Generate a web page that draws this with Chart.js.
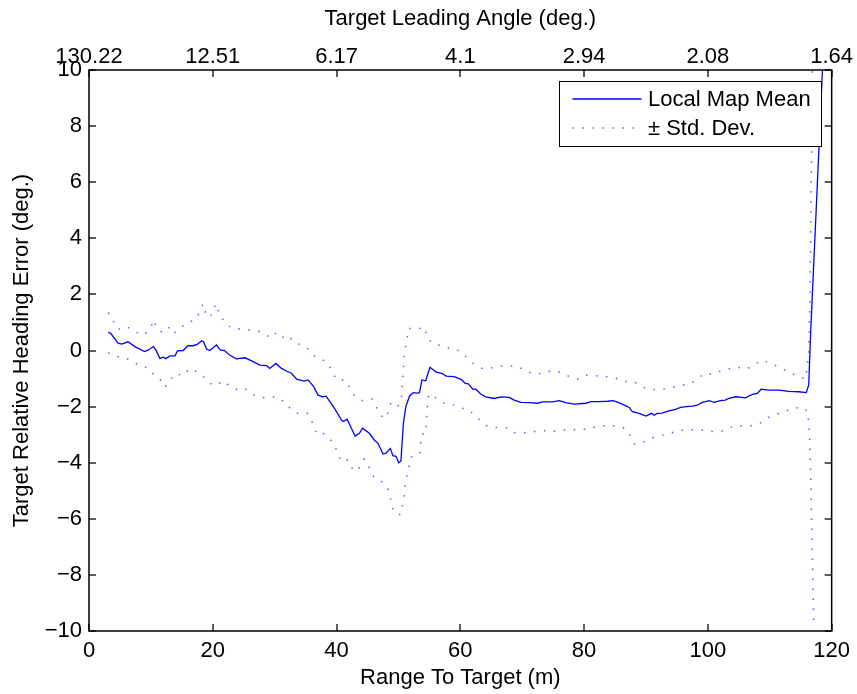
<!DOCTYPE html>
<html>
<head>
<meta charset="utf-8">
<title>Target Relative Heading Error</title>
<script src="https://cdn.jsdelivr.net/npm/chart.js@4.4.1/dist/chart.umd.min.js"></script>
<style>
  html, body { margin: 0; padding: 0; background: #fff; }
  #wrap { width: 857px; height: 694px; position: relative; }
</style>
</head>
<body>
<div id="wrap"><canvas id="c"></canvas></div>
<script>
// Range to target (m) and mean heading error (deg.)
const meanRange = [3.1, 3.5, 4.7, 5.3, 6.3, 7.4, 9.0, 9.6, 10.4, 10.8, 11.45, 12.0, 12.4, 13.1, 13.9, 14.3, 15.2, 16.0, 16.8, 17.5, 18.2, 18.5, 19.0, 19.5, 20.6, 21.2, 21.9, 22.7, 23.8, 25.2, 26.2, 27.6, 28.7, 29.2, 30.2, 31.1, 31.9, 32.7, 33.6, 34.8, 35.4, 36.3, 37.0, 37.8, 38.3, 39.1, 39.7, 40.8, 41.1, 41.7, 42.4, 43.0, 43.7, 44.2, 45.3, 46.1, 46.7, 47.5, 48.0, 48.7, 49.1, 49.6, 50.05, 50.4, 50.8, 51.2, 51.8, 52.4, 52.9, 53.4, 53.8, 54.4, 55.1, 56.1, 57.1, 57.7, 59.0, 60.1, 60.8, 61.3, 62.0, 62.5, 63.3, 64.1, 65.5, 66.6, 67.9, 68.7, 69.8, 71.1, 72.5, 73.3, 74.9, 76.0, 77.0, 78.4, 80.3, 81.1, 82.4, 83.8, 84.7, 85.6, 86.4, 87.3, 87.8, 88.9, 90.0, 90.9, 91.3, 91.8, 92.6, 93.7, 94.8, 95.6, 96.5, 97.5, 98.3, 99.1, 100.2, 101.0, 102.0, 102.8, 103.4, 104.5, 106.1, 107.2, 108.0, 108.6, 109.8, 111.5, 113.1, 114.7, 115.9, 116.3, 116.6, 118.6];
const meanError = [0.65, 0.61, 0.26, 0.23, 0.31, 0.14, -0.04, 0.02, 0.14, 0.02, -0.28, -0.24, -0.29, -0.19, -0.19, -0.01, 0.0, 0.17, 0.17, 0.22, 0.35, 0.31, 0.05, 0.0, 0.2, 0.02, 0.0, -0.16, -0.3, -0.26, -0.36, -0.52, -0.54, -0.64, -0.46, -0.64, -0.73, -0.81, -1.03, -1.09, -1.05, -1.29, -1.59, -1.65, -1.63, -1.88, -2.07, -2.48, -2.53, -2.45, -2.77, -3.05, -2.95, -2.77, -2.95, -3.19, -3.31, -3.69, -3.66, -3.49, -3.75, -3.77, -4.0, -3.94, -2.6, -2.0, -1.62, -1.5, -1.52, -1.5, -1.05, -1.08, -0.6, -0.77, -0.82, -0.91, -0.93, -1.03, -1.17, -1.19, -1.38, -1.38, -1.55, -1.65, -1.71, -1.65, -1.67, -1.77, -1.85, -1.86, -1.88, -1.83, -1.83, -1.79, -1.86, -1.91, -1.88, -1.82, -1.82, -1.81, -1.79, -1.86, -1.94, -2.03, -2.18, -2.24, -2.34, -2.24, -2.31, -2.24, -2.23, -2.15, -2.1, -2.03, -2.0, -1.98, -1.95, -1.85, -1.79, -1.85, -1.79, -1.77, -1.71, -1.65, -1.69, -1.56, -1.53, -1.38, -1.41, -1.41, -1.46, -1.47, -1.5, -1.23, 0.6, 10.4];

// Mean + one standard deviation
const upperRange = [3.1, 3.9, 4.7, 6.1, 7.4, 8.8, 9.8, 10.5, 10.9, 11.7, 12.8, 13.6, 14.7, 15.75, 17.1, 17.8, 18.4, 18.9, 19.6, 20.0, 20.7, 21.0, 21.7, 22.5, 23.8, 25.2, 26.7, 28.1, 29.2, 30.0, 30.9, 32.1, 33.2, 34.3, 35.5, 36.5, 37.8, 38.6, 39.3, 40.05, 41.4, 42.1, 42.9, 44.2, 45.7, 46.5, 47.2, 48.0, 48.5, 48.8, 49.9, 50.5, 50.7, 50.9, 51.1, 51.4, 51.6, 52.8, 54.3, 54.6, 55.6, 57.1, 58.5, 59.9, 61.0, 62.1, 63.3, 64.8, 66.0, 67.6, 69.1, 70.3, 71.8, 73.3, 74.8, 76.2, 77.6, 78.9, 80.3, 81.9, 83.5, 85.0, 86.5, 88.1, 89.4, 90.7, 92.1, 93.6, 95.1, 96.7, 98.1, 99.2, 100.8, 102.2, 103.4, 104.7, 106.3, 107.6, 108.8, 110.2, 111.5, 112.9, 114.3, 115.7, 116.0, 116.3, 116.5, 116.9, 117.0];
const upperError = [1.35, 1.06, 0.75, 0.85, 0.67, 0.55, 0.75, 1.09, 0.79, 0.67, 0.85, 0.59, 0.79, 0.97, 1.09, 1.32, 1.66, 1.3, 1.18, 1.5, 1.66, 1.3, 1.09, 0.87, 0.79, 0.73, 0.73, 0.63, 0.47, 0.63, 0.43, 0.55, 0.28, 0.2, 0.04, -0.22, -0.34, -0.46, -0.75, -1.05, -1.05, -1.31, -1.62, -1.79, -1.73, -2.05, -2.33, -2.42, -2.06, -1.86, -2.0, -1.68, -0.99, -0.28, 0.07, 0.43, 0.79, 0.77, 0.81, 0.47, 0.23, 0.17, 0.05, -0.01, -0.24, -0.46, -0.63, -0.63, -0.57, -0.55, -0.55, -0.69, -0.84, -0.81, -0.72, -0.78, -0.93, -1.02, -0.87, -0.9, -0.93, -0.98, -1.1, -1.12, -1.3, -1.38, -1.4, -1.35, -1.27, -1.2, -1.08, -0.84, -0.84, -0.72, -0.65, -0.6, -0.66, -0.49, -0.34, -0.46, -0.59, -0.75, -0.89, -1.02, -0.72, 0.01, 1.8, 10.0, 11.0];

// Mean - one standard deviation
const lowerRange = [3.1, 4.2, 5.5, 6.9, 8.2, 9.6, 10.5, 11.45, 12.3, 13.1, 14.0, 15.2, 16.3, 17.6, 18.8, 19.9, 20.8, 21.5, 22.85, 24.2, 25.4, 26.7, 28.1, 29.4, 30.6, 31.8, 32.7, 33.9, 35.3, 36.1, 36.7, 37.4, 38.6, 39.5, 40.1, 40.75, 41.8, 42.6, 43.4, 44.1, 44.5, 45.3, 46.0, 47.2, 48.3, 48.7, 49.1, 49.8, 50.4, 50.7, 51.0, 51.1, 51.4, 51.8, 52.2, 52.85, 53.5, 53.6, 53.8, 54.4, 54.5, 54.6, 54.7, 54.9, 55.8, 57.0, 58.6, 60.0, 61.4, 62.3, 63.3, 64.5, 66.0, 67.6, 68.8, 70.4, 72.0, 73.5, 74.9, 76.4, 77.9, 79.4, 80.8, 82.3, 83.8, 85.4, 86.6, 87.5, 88.1, 89.6, 90.9, 91.8, 93.3, 94.8, 96.4, 97.9, 99.3, 100.8, 102.3, 103.7, 105.3, 106.9, 108.2, 109.3, 110.6, 112.1, 113.6, 115.2, 116.1, 116.4, 116.6, 117.1];
const lowerError = [-0.08, -0.2, -0.24, -0.36, -0.55, -0.62, -0.86, -1.02, -1.31, -1.05, -0.82, -0.9, -0.64, -0.78, -0.99, -1.23, -1.23, -1.08, -1.27, -1.43, -1.38, -1.59, -1.68, -1.65, -1.67, -1.88, -2.12, -2.26, -2.24, -2.57, -2.92, -2.86, -3.1, -3.29, -3.61, -3.96, -3.9, -4.24, -4.3, -3.96, -3.87, -4.18, -4.5, -4.65, -4.91, -5.27, -5.63, -5.86, -5.84, -5.48, -5.13, -4.77, -4.42, -4.06, -3.73, -3.69, -3.64, -3.31, -2.98, -2.98, -2.62, -2.28, -1.92, -1.56, -1.65, -1.86, -1.91, -2.04, -2.12, -2.31, -2.5, -2.72, -2.75, -2.75, -2.93, -2.93, -2.89, -2.86, -2.89, -2.83, -2.83, -2.81, -2.8, -2.68, -2.68, -2.68, -2.77, -3.04, -3.33, -3.26, -3.12, -3.07, -2.99, -2.89, -2.83, -2.83, -2.83, -2.89, -2.87, -2.74, -2.68, -2.68, -2.63, -2.44, -2.29, -2.22, -2.07, -2.02, -2.16, -2.9, -4.3, -9.7];

// Top axis: leading angle (deg.) at each range tick
const angleTicks = ['130.22', '12.51', '6.17', '4.1', '2.94', '2.08', '1.64'];

const FONT = "'Liberation Sans', Arial, Helvetica, sans-serif";
const BLUE = '#0000ff';
const DOT_BLUE = 'rgba(40,40,255,0.75)';

const pts = (xs, ys) => xs.map((x, i) => ({ x, y: ys[i] }));
const minus = v => (v < 0 ? '\u2212' + Math.abs(v) : String(v));

// Box frame with inward tick marks on all four sides
const framePlugin = {
  id: 'frame',
  afterDatasetsDraw(chart) {
    const { ctx, chartArea: a, scales } = chart;
    const x = scales.x, y = scales.y;
    const len = 7;
    ctx.save();
    ctx.fillStyle = '#2a2a2a';
    x.ticks.forEach(t => {
      const px = Math.round(x.getPixelForValue(t.value));
      ctx.fillRect(px - 0.75, a.bottom - len, 1.5, len);
      ctx.fillRect(px - 0.75, a.top, 1.5, len);
    });
    y.ticks.forEach(t => {
      const py = Math.round(y.getPixelForValue(t.value));
      ctx.fillRect(a.left, py - 0.75, len, 1.5);
      ctx.fillRect(a.right - len, py - 0.75, len, 1.5);
    });
    ctx.strokeStyle = '#000';
    ctx.lineWidth = 1.5;
    ctx.strokeRect(a.left, a.top, a.right - a.left, a.bottom - a.top);
    ctx.restore();
  }
};

// Boxed legend in the upper-right corner of the plot
const boxLegendPlugin = {
  id: 'boxLegend',
  afterDraw(chart) {
    const { ctx, chartArea: a } = chart;
    const w = 262, h = 65;
    const left = Math.round(a.right - 11 - w) + 0.5;
    const top = Math.round(a.top + 11) + 0.5;
    ctx.save();
    ctx.fillStyle = '#fff';
    ctx.fillRect(left, top, w, h);
    ctx.strokeStyle = '#000';
    ctx.lineWidth = 1;
    ctx.strokeRect(left, top, w, h);
    const seen = new Set();
    let row = 0;
    chart.data.datasets.forEach(ds => {
      if (seen.has(ds.label)) return;
      seen.add(ds.label);
      const cy = top + 17.5 + row * 29;
      ctx.beginPath();
      ctx.strokeStyle = ds.borderColor;
      ctx.lineWidth = ds.borderWidth;
      ctx.setLineDash(ds.borderDash || []);
      ctx.moveTo(left + 13, cy);
      ctx.lineTo(left + 82, cy);
      ctx.stroke();
      ctx.setLineDash([]);
      ctx.fillStyle = '#000';
      ctx.font = '22px ' + FONT;
      ctx.textBaseline = 'middle';
      ctx.textAlign = 'left';
      ctx.fillText(ds.label, left + 88.5, cy + 1);
      row++;
    });
    ctx.restore();
  }
};

const dotted = { borderColor: DOT_BLUE, borderWidth: 1.5, borderDash: [1.5, 8.5], borderCapStyle: 'butt' };

new Chart(document.getElementById('c'), {
  type: 'line',
  data: {
    datasets: [
      { label: 'Local Map Mean', data: pts(meanRange, meanError), borderColor: BLUE, borderWidth: 1.3 },
      Object.assign({ label: '\u00b1 Std. Dev.', data: pts(upperRange, upperError) }, dotted),
      Object.assign({ label: '\u00b1 Std. Dev.', data: pts(lowerRange, lowerError) }, dotted)
    ]
  },
  options: {
    responsive: true,
    maintainAspectRatio: false,
    animation: false,
    layout: { padding: { left: 0, right: 24, top: 0, bottom: 0 } },
    elements: { point: { radius: 0, hoverRadius: 0 }, line: { tension: 0, fill: false } },
    plugins: { legend: { display: false }, tooltip: { enabled: false } },
    scales: {
      x: {
        type: 'linear', position: 'bottom', min: 0, max: 120,
        grid: { display: false, drawTicks: false }, border: { display: false },
        ticks: { stepSize: 20, autoSkip: false, maxRotation: 0, padding: 7, color: '#000', font: { family: FONT, size: 22 } },
        title: { display: true, text: 'Range To Target (m)', color: '#000', font: { family: FONT, size: 22 }, padding: { top: 0, bottom: 3 } },
        afterFit: s => { s.height = 63; }
      },
      x2: {
        type: 'linear', position: 'top', min: 0, max: 120,
        grid: { display: false, drawTicks: false }, border: { display: false },
        ticks: { stepSize: 20, autoSkip: false, maxRotation: 0, padding: 0, color: '#000', font: { family: FONT, size: 22 },
                 callback: (v, i) => angleTicks[i] },
        title: { display: true, text: 'Target Leading Angle (deg.)', color: '#000', font: { family: FONT, size: 22 }, padding: { top: 6, bottom: 0 } },
        afterFit: s => { s.height = 70; }
      },
      y: {
        type: 'linear', position: 'left', min: -10, max: 10,
        grid: { display: false, drawTicks: false }, border: { display: false },
        ticks: { stepSize: 2, padding: 7, color: '#000', font: { family: FONT, size: 22 }, callback: v => minus(v) },
        title: { display: true, text: 'Target Relative Heading Error (deg.)', color: '#000', font: { family: FONT, size: 22 }, padding: { top: 9, bottom: 0 } },
        afterFit: s => { s.width = 89; }
      }
    }
  },
  plugins: [framePlugin, boxLegendPlugin]
});
</script>
</body>
</html>
